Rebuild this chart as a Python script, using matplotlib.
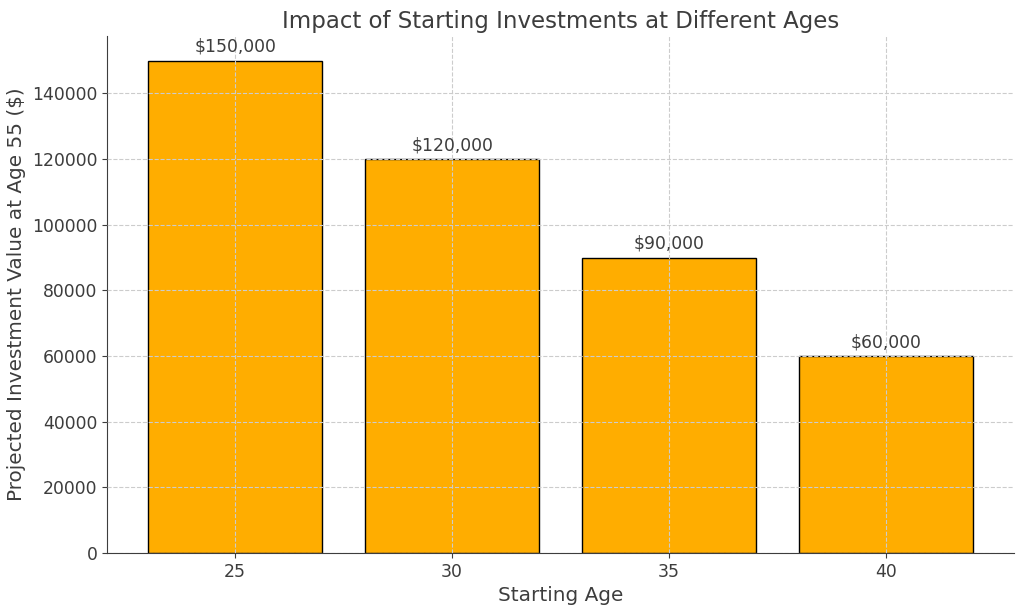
import matplotlib
matplotlib.use("Agg")
import matplotlib.pyplot as plt

ages = ["25", "30", "35", "40"]
values = [150000, 120000, 90000, 60000]
labels = ["$150,000", "$120,000", "$90,000", "$60,000"]

tc = "#3d3d3d"
fig = plt.figure(figsize=(10.24, 6.11), dpi=100)
ax = fig.add_axes([0.1045, 0.095, 0.886, 0.846])
bars = ax.bar(ages, values, color="#FFAD00", edgecolor="black", linewidth=1.0, width=0.8, zorder=2)
ax.set_ylim(0, 157500)
ax.grid(True, linestyle="--", color="#cccccc", linewidth=0.8, zorder=3)
ax.set_axisbelow(False)
for b, lab in zip(bars, labels):
    ax.text(b.get_x() + b.get_width() / 2, b.get_height() + 1500, lab,
            ha="center", va="bottom", fontsize=12.4, color=tc, zorder=4)
for s in ["top", "right"]:
    ax.spines[s].set_visible(False)
ax.spines["left"].set_color(tc)
ax.spines["bottom"].set_color(tc)
ax.tick_params(labelsize=12.4, colors=tc)
ax.set_title("Impact of Starting Investments at Different Ages", fontsize=16.5, color=tc)
ax.set_xlabel("Starting Age", fontsize=14.4, color=tc)
ax.set_ylabel("Projected Investment Value at Age 55 ($)", fontsize=14.4, color=tc)
fig.savefig("out.png", dpi=100)
